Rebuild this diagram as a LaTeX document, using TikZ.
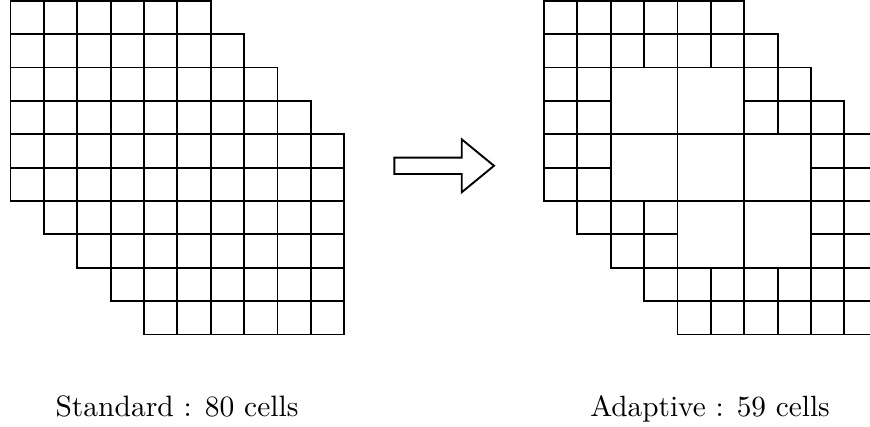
\documentclass[tikz,border=0pt]{standalone}
\usepackage{graphicx}
\begin{document}
\begin{tikzpicture}[x=1pt,y=-1pt,
  cellline/.style={line width=1.9pt, draw=black},
  arrowline/.style={line width=1.9pt, draw=black, line join=miter},
  caption/.style={anchor=base, inner sep=0pt}]
\clip (0,0) rectangle (870,427);
\def\cs{33.38}
% left: standard grid
\foreach \r/\a/\b in {0/0/5,1/0/6,2/0/7,3/0/8,4/0/9,5/0/9,6/1/9,7/2/9,8/3/9,9/4/9}
  \foreach \c in {\a,...,\b}
    \draw[cellline] ({10.5+\c*\cs},{0.7+\r*\cs}) rectangle ++(\cs,\cs);
% right: adaptive grid, small cells
\foreach \r/\cols in {0/{0,1,2,3,4,5},1/{0,1,2,3,4,5,6},2/{0,1,6,7},3/{0,1,6,7,8},
  4/{0,1,8,9},5/{0,1,8,9},6/{1,2,3,8,9},7/{2,3,8,9},8/{3,4,5,6,7,8,9},9/{4,5,6,7,8,9}}
  \foreach \c in \cols
    \draw[cellline] ({544+\c*\cs},{0.7+\r*\cs}) rectangle ++(\cs,\cs);
% right: large cells
\foreach \c/\r in {2/2,4/2,2/4,4/4,6/4,4/6,6/6}
  \draw[cellline] ({544+\c*\cs},{0.7+\r*\cs}) rectangle ++({2*\cs},{2*\cs});
% arrow
\draw[arrowline] (394.3,157.7) -- (461.7,157.7) -- (461.7,139.3) -- (494,165.8)
  -- (461.7,192.3) -- (461.7,174) -- (394.3,174) -- cycle;
% labels
\node[caption] (stdlabel) at (177,416.5) {\scalebox{2.95}{Standard : 80 cells}};
\node[caption] (adalabel) at (710,416.5) {\scalebox{2.93}{Adaptive : 59 cells}};
\end{tikzpicture}
\end{document}
